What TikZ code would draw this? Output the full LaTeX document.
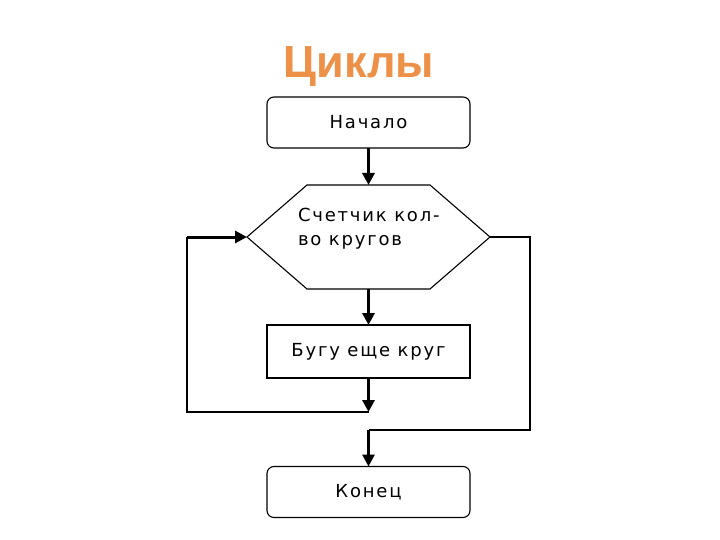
\documentclass[tikz,border=0pt]{standalone}
\usepackage{fontspec}
\setmainfont{Liberation Sans}
\newfontfamily\boxfont[LetterSpace=10]{DejaVu Sans}
\newfontfamily\titlefont{Liberation Sans}
\usetikzlibrary{arrows.meta}
\definecolor{titleorange}{HTML}{EE9148}
\begin{document}
\begin{tikzpicture}[x=1pt,y=-1pt,
  every node/.style={inner sep=0pt, outer sep=0pt},
  thin line/.style={line width=1.1pt},
  thick arrow/.style={line width=3pt, -{Triangle[length=12pt,width=12pt]}},
  txt/.style={font=\boxfont\fontsize{18}{24}\selectfont},
  termbox/.style={draw, line width=1.1pt, rounded corners=7pt, minimum width=203pt, minimum height=51pt, txt},
  procbox/.style={draw, line width=1.1pt, minimum width=203pt, minimum height=53pt, txt}]
\useasboundingbox (0,0) rectangle (720,540);
\node[text=titleorange, font=\titlefont\bfseries\fontsize{45}{50}\selectfont] (title) at (359,67) {Циклы};
\node[termbox] (start) at (368.5,122.5) {Начало};
\node[minimum width=243pt, minimum height=104pt] (cnt) at (368.5,237) {};
\draw[thin line] ([xshift=60pt]cnt.north west) -- ([xshift=-60pt]cnt.north east) -- (cnt.east)
  -- ([xshift=-60pt]cnt.south east) -- ([xshift=60pt]cnt.south west) -- (cnt.west) -- cycle;
\node[txt, align=left, anchor=west] (cnttext) at (298,229) {Счетчик кол-\\во кругов};
\node[procbox] (body) at (368.5,351.5) {Бугу еще круг};
\node[termbox] (end) at (368.5,492) {Конец};
\coordinate (join) at (368.5,412);
\coordinate (bl) at (187,412);
\coordinate (tl) at (187,237);
\coordinate (rt) at (530,237);
\coordinate (rb) at (530,430);
\coordinate (exitc) at (368.5,430);
\draw[thick arrow] (start.south) -- (cnt.north);
\draw[thick arrow] (cnt.south) -- (body.north);
\draw[thick arrow] (body.south) -- (join);
\draw[thin line] (join) -- (bl) -- (tl);
\draw[thick arrow] (tl) -- (cnt.west);
\draw[thin line] (cnt.east) -- (rt) -- (rb) -- (exitc);
\draw[thick arrow] (exitc) -- (end.north);
\end{tikzpicture}
\end{document}
